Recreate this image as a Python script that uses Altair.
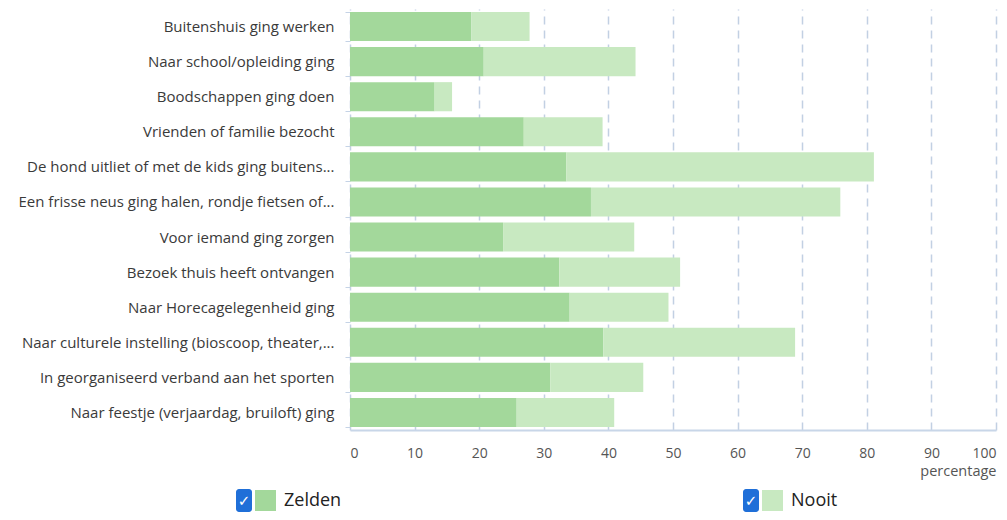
import altair as alt
import pandas as pd

categories = [
    "Buitenshuis ging werken",
    "Naar school/opleiding ging",
    "Boodschappen ging doen",
    "Vrienden of familie bezocht",
    "De hond uitliet of met de kids ging buitens...",
    "Een frisse neus ging halen, rondje fietsen of...",
    "Voor iemand ging zorgen",
    "Bezoek thuis heeft ontvangen",
    "Naar Horecagelegenheid ging",
    "Naar culturele instelling (bioscoop, theater,...",
    "In georganiseerd verband aan het sporten",
    "Naar feestje (verjaardag, bruiloft) ging",
]
zelden = [18.8, 20.7, 13.1, 26.9, 33.5, 37.3, 23.7, 32.4, 34.0, 39.2, 31.0, 25.8]
nooit = [9.0, 23.5, 2.7, 12.2, 47.6, 38.6, 20.3, 18.7, 15.3, 29.7, 14.4, 15.1]
series = ["Zelden", "Nooit"]
colors = ["#a3d89b", "#c8e9c1"]
x_ticks = list(range(0, 101, 10))

rows = []
for c, z, n in zip(categories, zelden, nooit):
    rows.append({"cat": c, "series": "Zelden", "value": z, "ord": 0})
    rows.append({"cat": c, "series": "Nooit", "value": n, "ord": 1})
df = pd.DataFrame(rows)

FONT = "Open Sans"

bars = alt.Chart(df).mark_bar().encode(
    y=alt.Y(
        "cat:N",
        sort=categories,
        scale=alt.Scale(paddingInner=0.17, paddingOuter=0.085),
        axis=alt.Axis(
            title=None, domain=False, ticks=True, tickBand="extent",
            tickColor="#c5d3e6", tickSize=5, labelFont=FONT, labelFontSize=15,
            labelColor="#3a3a3a", labelPadding=11, labelLimit=400, grid=False,
        ),
    ),
    x=alt.X(
        "value:Q",
        stack="zero",
        scale=alt.Scale(domain=[0, 100], nice=False),
        axis=alt.Axis(
            values=x_ticks, title="percentage", grid=True, gridDash=[8, 6],
            gridColor="#c2d0e3", gridWidth=1.5, domainColor="#c8d6e8", domainWidth=2,
            ticks=False, labelPadding=16, labelFont=FONT, labelFontSize=14,
            labelColor="#555555", titleFont=FONT, titleFontSize=14.5,
            titleFontWeight="normal", titleColor="#555555", titleX=646,
            titleY=34, titleAlign="right",
        ),
    ),
    color=alt.Color(
        "series:N",
        scale=alt.Scale(domain=series, range=colors),
        legend=alt.Legend(
            title=None, orient="none", legendX=-95, legendY=481,
            direction="horizontal", symbolType="square", symbolSize=440,
            symbolStrokeWidth=0, symbolOpacity=1, labelFont=FONT, labelFontSize=18,
            labelColor="#222222", columnPadding=420, labelOffset=8,
        ),
    ),
    order=alt.Order("ord:Q"),
)

cb = pd.DataFrame({"x": [-114, 393], "lab": ["Zelden", "Nooit"]})
boxes = alt.Chart(cb).mark_rect(color="#1f6fd8", cornerRadius=3).encode(
    x=alt.X("x:Q", scale=None),
    x2=alt.X2("x2:Q"),
    y=alt.value(480),
    y2=alt.value(503),
).transform_calculate(x2="datum.x + 16")
checks = alt.Chart(cb).mark_text(
    text="✓", color="white", fontSize=15, fontWeight="bold", font="DejaVu Sans"
).encode(
    x=alt.X("xc:Q", scale=None),
    y=alt.value(492),
).transform_calculate(xc="datum.x + 8")

chart = alt.layer(bars, boxes, checks).properties(
    width=646,
    height=421,
    autosize=alt.AutoSizeParams(type="none"),
    padding={"left": 342, "top": 1, "right": 3, "bottom": 82},
).configure_view(stroke=None)

chart.save("out.html", embed_options={"renderer": "svg", "actions": False})
